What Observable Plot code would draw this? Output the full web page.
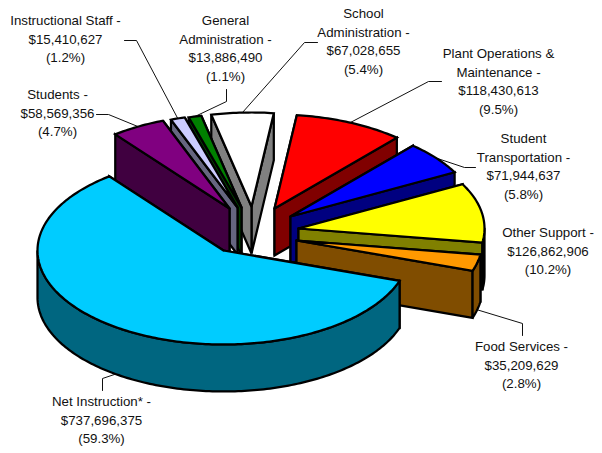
<!DOCTYPE html>
<html><head><meta charset="utf-8">
<script src="https://cdn.jsdelivr.net/npm/d3@7"></script>
<script src="https://cdn.jsdelivr.net/npm/@observablehq/plot@0.6"></script>
<style>html,body{margin:0;padding:0;background:#fff}svg{display:block}</style>
</head><body><div id="chart"></div>
<script>
// ---- data
const names = [["Net Instruction* -"],["Students -"],["Instructional Staff -"],["General","Administration -"],["School","Administration -"],["Plant Operations &","Maintenance -"],["Student","Transportation -"],["Other Support -"],["Food Services -"]];
const amounts = [737696375,58569356,15410627,13886490,67028655,118430613,71944637,126862906,35209629];

// ---- styles
const topColors = ["#00CCFF","#800080","#CCCCFF","#008000","#FFFFFF","#FF0000","#0000FF","#FFFF00","#FF9900"];
const sideColors = ["#006680","#400040","#666680","#004000","#808080","#800000","#000080","#808000","#804D00"];

// ---- layout: projection of the tilted pie and explosion apex of each slice
const W = 602, H = 453, rx = 186, ry = 94, depth = 47, startDeg = 18.8;
const apexX = [223,229,237,241,251,274,290,298,296];
const apexY = [250,208,207,207,206,208,216,228,240];
const paintOrder = [4,5,6,7,8,3,2,1,0];
const labelX = [101,57,65,225,363,498,523,547.5,521];
const labelY = [401,94,20,20,13,53,138,232,346];
const lineStep = 18.8;
const elbows = [[[102,390],[102,378]],[[96,114],[108,114]],[[124,40],[136,40]],[[226,89],[226,101]],[[317,42],[304,42]],[[441,81],[428,81]],[[475,167],[464,167]],null,[[522,335],[522,323]]];
const leaderOnRim = [true,false,false,false,false,false,false,false,true];

const total = d3.sum(amounts);
const rad = d => d*Math.PI/180;
let acc = startDeg;
const slices = amounts.map((v,i)=>{const a0=acc,a1=acc+v/total*360;acc=a1;return {i,a0,a1};});
const pt = (s,a,dz=0)=>[apexX[s.i]+rx*Math.cos(rad(a)), apexY[s.i]+ry*Math.sin(rad(a))+dz];
const arc = (s,a0,a1,dz=0)=>{const n=Math.max(2,Math.ceil(Math.abs(a1-a0)));return d3.range(n+1).map(k=>pt(s,a0+(a1-a0)*k/n,dz));};

const polys=[];
const add=(id,fill,pts)=>{pts=[...pts,pts[0]];pts.forEach(([x,y])=>polys.push({id,fill,x,y}));};
for(const si of paintOrder){
  const s=slices[si], c=[apexX[si],apexY[si]], cb=[c[0],c[1]+depth];
  const face=a=>[c,pt(s,a),pt(s,a,depth),cb];
  const left = si<=4 && si>0;
  const faces = left?[s.a1,s.a0]:[s.a0,s.a1];
  faces.forEach((a,k)=>add(`f${si}${k}`,sideColors[si],face(a)));
  for(const [lo,hi] of [[0,180],[360,540]]){
    const a0=Math.max(lo,s.a0),a1=Math.min(hi,s.a1);
    if(a1>a0) add(`r${si}${lo}`,sideColors[si],[...arc(s,a0,a1),...arc(s,a0,a1,depth).reverse()]);
  }
  add(`t${si}`,topColors[si],[c,...arc(s,s.a0,s.a1)]);
}

const fmt=d3.format("$,"), pct=d3.format(".1%");
const textRows=names.flatMap((n,i)=>[...n,fmt(amounts[i]),`(${pct(amounts[i]/total)})`].map((t,k)=>({t,x:labelX[i],y:labelY[i]+k*lineStep})));

const leaders=[];
slices.forEach(s=>{const e=elbows[s.i]; if(!e) return;
  const mid=(s.a0+s.a1)/2, end=pt(s,mid,leaderOnRim[s.i]?depth:0);
  [...e,end].forEach(([x,y])=>leaders.push({id:s.i,x,y}));
});

const plot=Plot.plot({width:W,height:H,margin:0,
  x:{domain:[0,W],range:[0,W],axis:null},
  y:{domain:[0,H],range:[0,H],axis:null},
  color:{type:"identity"},
  style:{background:"#fff",fontFamily:"'Liberation Sans',Arial,sans-serif"},
  marks:[
    Plot.line(leaders,{x:"x",y:"y",z:"id",stroke:"#111",strokeWidth:1,curve:"linear"}),
    Plot.line(polys,{x:"x",y:"y",z:"id",fill:"fill",stroke:"#000",strokeWidth:2.25,curve:"linear",strokeLinejoin:"miter",strokeMiterlimit:3}),
    Plot.text(textRows,{x:"x",y:"y",text:"t",fontSize:13.3,fill:"#111",textAnchor:"middle",lineAnchor:"middle"})
  ]});
document.getElementById("chart").append(plot);
</script></body></html>
